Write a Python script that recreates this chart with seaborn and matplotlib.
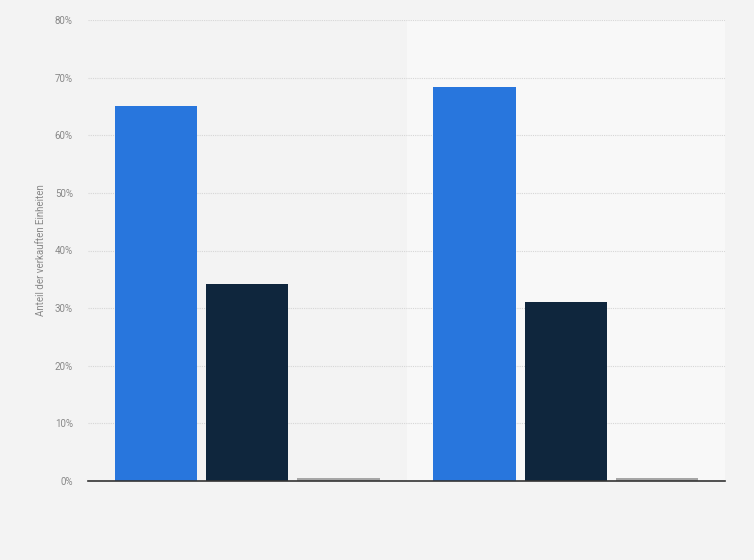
import matplotlib
matplotlib.use("Agg")
import matplotlib.pyplot as plt
import seaborn as sns
import pandas as pd
from matplotlib.ticker import FuncFormatter

# Data
categories = ["Zeitraum 1", "Zeitraum 2"]
series_names = ["Serie 1", "Serie 2", "Serie 3"]
series_1 = [65.1, 68.3]
series_2 = [34.1, 31.1]
series_3 = [0.5, 0.5]
y_ticks = [0, 10, 20, 30, 40, 50, 60, 70, 80]
y_label = "Anteil der verkauften Einheiten"

colors = ["#2876dd", "#0f263d", "#a6a6a6"]

rows = []
for name, vals in zip(series_names, [series_1, series_2, series_3]):
    for cat, v in zip(categories, vals):
        rows.append({"Kategorie": cat, "Serie": name, "Wert": v})
df = pd.DataFrame(rows)

sns.set_style("white")
plt.rcParams["font.family"] = ["Roboto", "DejaVu Sans"]

fig = plt.figure(figsize=(7.54, 5.6), dpi=100)
fig.patch.set_facecolor("#f3f3f3")
ax = fig.add_axes([88 / 754, 1 - 481 / 560, (725 - 88) / 754, (481 - 20) / 560])
ax.set_facecolor("#f3f3f3")

ax.axvspan(0.5, 1.5, color="#f8f8f8", zorder=0, lw=0)

sns.barplot(data=df, x="Kategorie", y="Wert", hue="Serie", order=categories,
            hue_order=series_names, palette=colors, width=0.86, gap=0.1,
            saturation=1, legend=False, ax=ax, zorder=3, linewidth=0)

ax.set_xlim(-0.5, 1.5)
ax.set_ylim(0, 80)
ax.set_yticks(y_ticks)
ax.yaxis.set_major_formatter(FuncFormatter(lambda v, p: f"{int(v)}%"))
ax.tick_params(axis="y", labelsize=7, colors="#888888", length=0, pad=11)
ax.tick_params(axis="x", length=0, labelbottom=False)
ax.set_xlabel("")
ax.set_ylabel(y_label, fontsize=7, color="#888888", labelpad=6)

ax.grid(axis="y", color="#d6d6d6", linestyle=(0, (1, 1)), linewidth=0.8, zorder=1)
ax.set_axisbelow(True)
for s in ["top", "right", "left"]:
    ax.spines[s].set_visible(False)
ax.spines["bottom"].set_color("#333333")
ax.spines["bottom"].set_linewidth(1.2)
ax.spines["bottom"].set_zorder(4)

fig.savefig("out.png", dpi=100, facecolor=fig.get_facecolor())
